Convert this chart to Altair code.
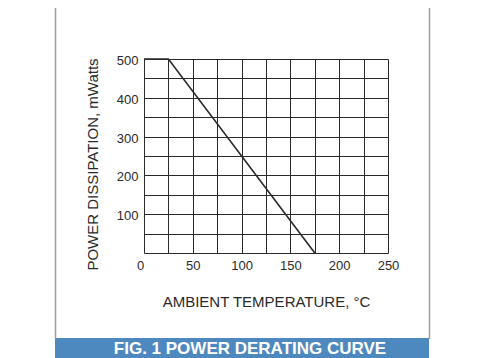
import altair as alt
import pandas as pd

# ---- data ----
temps = [0, 25, 175]
power = [500, 500, 0]
x_ticks = [0, 25, 50, 75, 100, 125, 150, 175, 200, 225, 250]
y_ticks = [0, 50, 100, 150, 200, 250, 300, 350, 400, 450, 500]
x_title = "AMBIENT TEMPERATURE, °C"
y_title = "POWER DISSIPATION, mWatts"
banner_text = ["FIG. 1 POWER DERATING CURVE"]

df = pd.DataFrame({"t": temps, "p": power})
banner_df = pd.DataFrame({"label": banner_text})
one_df = pd.DataFrame({"k": [0]})

W, H = 244, 194
FONT = "Liberation Sans"
INK = "#2a2a2a"
FRAME = "#a29d9c"
BLUE = "#4d89bf"

x_axis = alt.Axis(
    values=x_ticks,
    labelExpr="datum.value % 50 == 0 ? datum.label : ''",
    grid=True, gridColor=INK, gridOpacity=1, gridWidth=1,
    ticks=False, domain=False, labelFlush=False,
    labelOffset={"condition": {"test": "datum.value == 0", "value": -4}, "value": 0},
    labelPadding=6, labelFontSize=13, labelColor=INK, labelFont=FONT,
    title=x_title, titleFont=FONT, titleFontSize=15, titleFontWeight="normal",
    titleColor=INK, titleY=48, titleBaseline="middle",
)
y_axis = alt.Axis(
    values=y_ticks,
    labelExpr="datum.value % 100 == 0 && datum.value > 0 ? datum.label : ''",
    grid=True, gridColor=INK, gridOpacity=1, gridWidth=1,
    ticks=False, domain=False, labelFlush=False,
    labelPadding=6, labelFontSize=13, labelColor=INK, labelFont=FONT,
    labelOffset=1.5,
    title=y_title, titleFont=FONT, titleFontSize=15, titleFontWeight="normal",
    titleColor=INK, titleAngle=270, titleX=-52, titleY=105, titleBaseline="middle",
    titleAlign="center",
)

line = alt.Chart(df).mark_line(color=INK, strokeWidth=1.6).encode(
    x=alt.X("t:Q", scale=alt.Scale(domain=[0, 250], nice=False, zero=False), axis=x_axis),
    y=alt.Y("p:Q", scale=alt.Scale(domain=[0, 500], nice=False), axis=y_axis),
)

banner = alt.Chart(one_df).mark_rect(color=BLUE, clip=False).encode(
    x=alt.value(-89), x2=alt.value(285), y=alt.value(279), y2=alt.value(300)
)
banner_label = alt.Chart(banner_df).mark_text(
    color="white", font=FONT, fontSize=17, fontWeight="bold", baseline="middle", align="center"
).encode(x=alt.value(106), y=alt.value(290), text="label:N")

left_rule = alt.Chart(one_df).mark_rule(color=FRAME, strokeWidth=1.5).encode(
    x=alt.value(-88.5), y=alt.value(-60), y2=alt.value(280)
)
right_rule = alt.Chart(one_df).mark_rule(color=FRAME, strokeWidth=1.5).encode(
    x=alt.value(285.5), y=alt.value(-60), y2=alt.value(280)
)

chart = alt.layer(line, banner, banner_label, left_rule, right_rule).properties(
    width=W, height=H,
    autosize=alt.AutoSizeParams(type="none"),
    padding={"left": 136, "top": 51, "right": 104, "bottom": 105},
).configure_view(stroke=INK, strokeWidth=1.2).configure(background="white")

chart.save("out.html", embed_options={"renderer": "svg", "actions": False})
